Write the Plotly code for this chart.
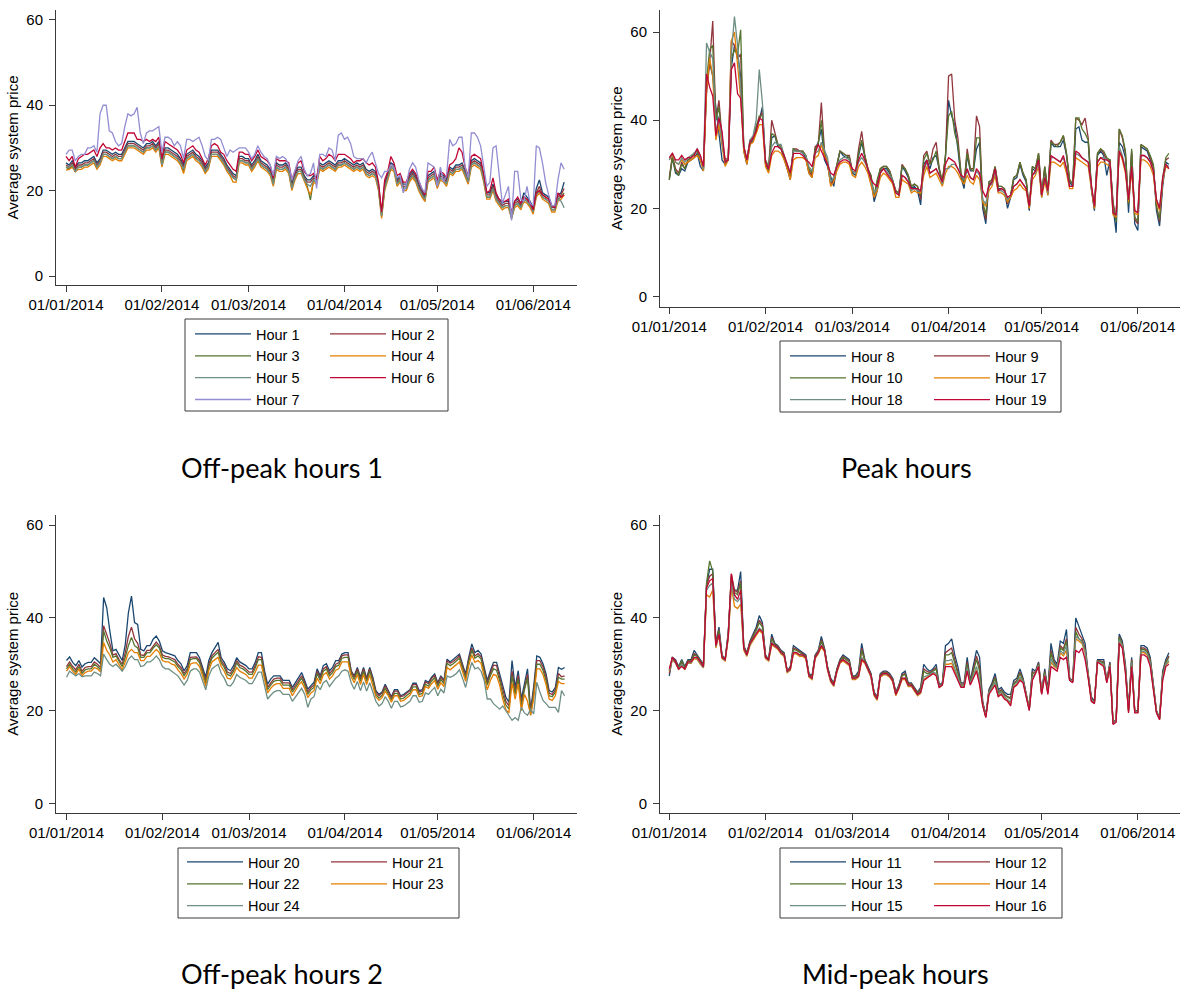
import plotly.graph_objects as go
import pandas as pd

# ---------------- data (daily average system price) ----------------
start_date = "2014-01-01"
n_days = 162
tick_dates = ["2014-01-01", "2014-02-01", "2014-03-01", "2014-04-01", "2014-05-01", "2014-06-01"]
tick_labels = ["01/01/2014", "01/02/2014", "01/03/2014", "01/04/2014", "01/05/2014", "01/06/2014"]
y_ticks = [0, 20, 40, 60]
panel_titles = ["Off-peak hours 1", "Peak hours", "Off-peak hours 2", "Mid-peak hours"]
y_title = "Average system price"

# Off-peak hours 1
hour_1 = [26.5,26,27,25.5,26.5,26.5,27,27,27.5,28, 26.5,27.5,29.5,29.5,29,28.5,29,28.5,28.5,30,
          31.5,31.5,31.5,31,30.5,30,31,31,31.5,30.5, 31.5,27,30,30,29.5,29,28.5,27.5,26,28.5,
          29,29.5,28.5,28,27,25.5,26.5,29.5,29.5,29.5, 28.5,27.5,26,25,24,23.5,28,28,27.5,27.5,
          26,27,28.5,27,26.5,26,25,22.5,26.5,26, 26,26.5,25.5,21.5,24,25.5,25.5,23.5,22.5,22.5,
          23.5,23,26.5,26,26.5,27,26.5,26,27,27, 27.5,27,26.5,26,26.5,26,26.5,25,24.5,25,
          24.5,21.5,14.5,21.5,24,26.5,26,22.5,23.5,21.5, 21.5,23.5,24.5,23.5,21.5,20,18.5,23.5,24,24.5,
          22,24,23.5,22.5,25.5,25,26,26,26.5,24.5, 23,27,27.5,27,26.5,23.5,19.5,19.5,21.5,19,
          18,17,17.5,17.5,14.5,17.5,18,17,19.5,18.5, 17.5,16,20.5,22.5,19.5,19,18.5,16.5,16.5,19,
          19.5,22]
hour_2 = [26,25.5,26.5,25,26,26,26.5,26.5,27,27.5, 26,27,29,29,28.5,28,28.5,28,28,29.5,
          31,31,31,30.5,30,29.5,30.5,30.5,31,30, 31,26.5,29.5,29.5,29,28.5,28,27,25.5,28,
          28.5,29,28,27.5,26.5,25,26,29,29,29, 28,27,25.5,24.5,23.5,23,27.5,27.5,27,27,
          25.5,26.5,28,26.5,26,25.5,24.5,22,26,25.5, 25.5,26,25,21,23.5,25,25,23,22,22,
          23,22.5,26,25.5,26,26.5,26,25.5,26.5,26.5, 27,26.5,26,25.5,26,25.5,26,24.5,24,24.5,
          24,21,14.5,21,23.5,26,25.5,22,23,21, 21,23,24,23,21,19.5,18,23,23.5,24,
          21.5,23.5,23,22,25,24.5,25.5,25.5,26,24, 22.5,26.5,27,26.5,26,23,19,19,21,18.5,
          17.5,16.5,17,17,14,17,17.5,16.5,18.5,18, 17,15.5,19.5,21,19,18.5,18,16,16,18.5,
          19,20.5]
hour_3 = [25.5,25,26,24.5,25.5,25.5,26,26,26.5,27, 25.5,26.5,28.5,28.5,28,27.5,28,27.5,27.5,29,
          30.5,30.5,30.5,30,29.5,29,30,30,30.5,29.5, 30.5,26,29,29,28.5,28,27.5,26.5,24.5,27.5,
          28,28.5,27.5,27,26,24.5,25.5,28.5,28.5,28.5, 27.5,26.5,25,24,23,22.5,27,27,26.5,26.5,
          25,26,27.5,26,25.5,25,24,21.5,25.5,25, 25,25.5,24.5,20.5,23,24.5,24.5,22.5,21,17.8,
          22.5,22,25.5,25,25.5,26,25.5,25,26,26, 26.5,26,25.5,25,25.5,25,25.5,24,23.5,24,
          23.5,20.5,14,20.5,23,25.5,25,21.5,22.5,20.5, 20.5,22.5,23.5,22.5,20.5,19,17.5,22.5,23,23.5,
          21,23,22.5,21.5,24.5,24,25,25,25.5,23.5, 22,26,26.5,26,25.5,22.5,18.5,18.5,20.5,18,
          17,16,16.5,16.5,13.5,16.5,17,16,18,17.5, 16.5,15,19,20,18.5,18,17.5,15.5,15.5,18,
          18.5,19.5]
hour_4 = [24.8,25,25.5,24.4,25,25,25.5,25.5,26,26.5, 25,26,28,28,27.5,27,27.5,27,27,28.5,
          30,30,30,29.5,29,28.5,29.5,29.5,30,29, 30,25.5,28.5,28.5,28,27.5,27,26,24,27,
          27.5,28,27,26.5,25.5,24,25,28,28,28, 27,26,24.5,23.5,22,22,26.5,26.5,26,26,
          24.5,25.5,27,25.5,25,24.5,23.5,21,25,24.5, 24.5,25,24,20,22.5,24,24,22,20.5,19,
          22,21.5,25,24.5,25,25.5,25,24.5,25.5,25.5, 26,25.5,25,24.5,25,24.5,25,23.5,23,23.5,
          23,20,13.5,20,22.5,25,24.5,21,22,20, 20,22,23,22,20,18.5,17.5,22,22.5,23,
          20.5,22.5,22,21,24,23.5,24.5,24.5,25,23, 21.5,25.5,26,25.5,25,22,18,18,20,17.5,
          16.5,15.5,16,16,13.5,16,16.5,15.5,17.5,17, 16,14.5,18.5,19.5,18,17.5,17,15,15,17.5,
          18,19]
hour_5 = [25.5,25.5,26,24.5,25.5,25.5,26,26,26.5,27, 25.5,26.5,28.5,28.5,28,27.5,28,27.5,27.5,29,
          30.5,30.5,30.5,30,29.5,29,30,30,30.5,29.5, 30.5,26,29,29,28.5,28,27.5,26.5,25,27.5,
          28,28.5,27.5,27,26,24.5,25.5,28.5,28.5,28.5, 27.5,26.5,25,24,23,22.5,27,27,26.5,26.5,
          25,26,27.5,26,25.5,25,24,21.5,25.5,25, 25,25.5,24.5,20.5,23,24.5,24.5,22.5,21.5,21,
          22.5,22,25.5,25,25.5,26,25.5,25,26,26, 26.5,26,25.5,25,25.5,25,25.5,24,23.5,24,
          23.5,20.5,14,20.5,23,25.5,25,21.5,22.5,20.5, 20.5,22.5,23.5,22.5,20.5,19,18,22.5,23,23.5,
          21,23,22.5,21.5,24.5,24,25,25,25.5,23.5, 22,26,26.5,26,25.5,22.5,18.5,18.5,20.5,18,
          17,16,16.5,16.5,13.5,16.5,17,16,18,17.5, 16.5,15,19,20,18.5,18,17.5,15.5,15.5,18,
          17.5,16]
hour_6 = [28,27,28,25.5,27.5,28,28.5,28.5,29,29.5, 28,30,31,30,30,29.5,30,29.5,29.5,31.5,
          33.5,33.5,33.5,32,32,31.5,32,31.5,32,31.5, 32.5,27.5,31.5,31,30.5,30,29.5,28.5,26.5,29.5,
          30,30.5,29.5,29,27.5,26,27.5,30.5,31,30.5, 29,28.5,27,26,25,24.5,29,29,28.5,28.5,
          27,28,29.5,28,27.5,27,26,23,27.5,27, 27,27,26.5,22.5,24.5,26.5,27,24.5,23.5,23.5,
          24,22.5,28,27,27.5,28.5,28,27,28.5,28.5, 28.5,28,27.5,26.5,27,27,27.5,26.5,26,26.5,
          25.5,22,15,22.5,24.5,28,26.5,23.5,24,22, 22,24,25,24,22,20.5,19,24.5,24.5,25.5,
          22.5,24.5,24,23,26,26.5,27.5,30,29,25.5, 23.5,28,28.5,28,27.5,24,19.5,20,23,19.5,
          18,17.5,17.5,18,15,17.5,18.5,17,18.5,18, 17,15.5,19.5,20,19,18.5,18,16.5,16,19.5,
          18.5,19]
hour_7 = [28.5,29.5,29.5,27,28,28.5,28.5,30,30,30.5, 29,38,40,40,34,33.5,31.5,30.5,31,35,
          38,37.5,38,39.5,33.5,31,33.5,34,34,34.5, 35,29,32.5,32.5,32,30.5,31.5,30.5,27.5,32,
          32,31.5,32,32.5,30.5,28,27,32,32,32.5, 32,30,28,29.5,29,29.5,30,30,30,29,
          27.5,28.5,30.5,29,28,27.5,26,23.5,28,27.5, 28,27.5,26,22.5,24.5,27,28,25,23.5,24,
          26.5,20.5,28.5,28.5,28,30,29.5,27,33,33.5, 32,32.5,31,28,27.5,27.5,27.5,26.5,28,29,
          26.5,24,23,24.5,24.5,26,25.5,23,23.5,19.5, 21.5,25,26.5,25.5,22.5,20.5,19.5,26.5,26,25.5,
          21,25.5,22,23.5,32,30.5,31,32.5,32.5,25.5, 23,33.5,33.5,32.5,30.5,26,21,22,30,30.5,
          23,17,19,21,13,24.5,24.5,18,17.5,21, 17,16.5,30.5,30,26.5,22,19,16.5,16.5,22.5,
          26.5,25]

# Peak hours
hour_8 = [26.5,31.5,28,27.5,29,28.5,30.5,31,31.5,32.5, 29.5,28.5,48,53,50,43,37,31,30,31,
          52,57,55,50,33,30,34.5,35.5,38,40, 43,30,28.5,36,36.5,34,33.5,31.5,29,26.5,
          33.5,33,33,32.5,31.5,28,27,33.5,35,38, 31,29.5,27,25,29.5,33,32,31.5,31.5,28,
          27.5,32,35,31.5,28.5,27,21.5,24,28.5,29, 29,28,26,23.5,23,29.5,28.5,27,24.5,25,
          24,20.8,30,31,29,31.5,32,28.5,25.5,31.5, 44.5,41,39,33.5,27,24.5,32,28.5,28.5,33.5,
          35,20,16.5,25.5,26,29,24.5,24.5,24,20, 22.5,26.5,27,30,27.5,26,19.5,29,28.5,32,
          22.5,29,23,35,34,34,34,35.5,32,26, 25,38,38.5,35.5,35,35,24.5,19.5,32,33,
          32,27.5,31,20.5,14.5,35,34,31.5,19,32.5, 16.5,15,34,33.5,33,31,29.5,19.5,16,25,
          30.5,30]
hour_9 = [27,32,29,28,30.5,29,31,31.5,32.5,33, 31,29,46,53,62.5,40,44.5,36,31,31.5,
          58,57,54,55,34,31,35.5,36,38.5,40.5, 42,30.5,29,40,37,34.5,34,32,29.5,27,
          33.5,33.5,33,33,32,28.5,27.5,34,34.5,44, 33,30,25.5,26.5,30,33,32.5,32,32,28.5,
          28,33.5,37.5,32,29,27.5,22.5,26,29,29.5, 29.5,28.5,26.5,24,23.5,30,29,27.5,25,25.5,
          25,22,32,33,30,33.5,35,29,26,32, 50,50.5,40,36,28,25.5,33.5,29,29,41,
          38.5,21,17.5,26,26.5,29.5,25,25,24.5,21, 23,27,27.5,30.5,28,26.5,20,29.5,29,32.5,
          23,29.5,23.5,35.5,34.5,34.5,35,36.5,32.5,26.5, 25.5,40.5,40,39,40.5,36,25,20,32.5,33.5,
          32.5,31,31,21.5,17.5,38,36,32.5,21,33, 17.5,16.5,34.5,34,33.5,31.5,29.5,20.5,17,26,
          31,31.5]
hour_10 = [26.5,31.5,28.5,27.5,30,29,31,31.5,32.5,33, 31,29,49,56,57,40,43,35,30.5,31,
           54,56,55,60.5,34,31,35,36,38.5,41, 41,31,29.5,37,36.5,34.5,34,32,29,27.5,
           33.5,33,33,33,32,29,28,33.5,34.5,40, 32.5,30,26,27,30,33,32.5,32,31.5,28.5,
           28,32.5,35.5,32,29,27.5,23,26.5,29,29.5, 29.5,28.5,26.5,24,23.5,29.5,29,27.5,25,25.5,
           25,23,31,32.5,30,31,33,29,26,32, 41,42,37,34.5,28,26,32.5,29,28.5,36,
           36,21.5,18.5,26,26.5,29.5,25,25,24.5,21.5, 23,27,27.5,30.5,28,26.5,20,29.5,29,32.5,
           23,29.5,24,35,34.5,34,35,36.5,32.5,26.5, 25.5,40.5,40.5,38,37,35.5,25,20,32.5,33.5,
           33,31.5,31,21,17,38,36.5,33,21,33.5, 18,17,34.5,34,33.5,32,30,20.5,17.5,27,
           31.5,32.5]
hour_17 = [31,32,30.5,30,31,30,30.5,31,31.5,32, 31,28.5,47,54,50,35.5,39,34,29.5,31,
           58,60,52,45,33,30,34.5,35,37,39, 39,29.5,28,32,33,33,32.5,31,29,26.5,
           31,31.5,31.5,31.5,31,28,27,31.5,32,34.5, 32,30.5,25,26,28.5,30,30.5,30.5,30,27.5,
           27,29.5,30.5,29.5,28,25.5,22.5,24,27,28, 27.5,26.5,25.5,22.5,22.5,26.5,26,25.5,23.5,24,
           23.5,23.5,27.5,29.5,27,27.5,28,26.5,25,28, 29.5,29.5,29,28,26.5,25.5,27.5,26,25.5,27.5,
           26.5,21.5,20.5,24,25,27.5,23.5,23.5,23,21.5, 22.5,24,24.5,25.5,24.5,24,20,26.5,27.5,29.5,
           22.5,26,23,30.5,30.5,30,29.5,30.5,28,24.5, 24.5,31.5,31,30.5,30,29.5,24.5,20,29.5,30.5,
           30.5,30,29.5,18.5,18,33,31,28,21.5,28.5, 19,18.5,31,31,30.5,29.5,27.5,21.5,19.5,26,
           29.5,29]
hour_18 = [31,32.5,30.5,30,31.5,30.5,31.5,32,32.5,33.5, 32,29,57.5,55.5,54,37,41,35,30.5,31,
           55,63.5,57,47,34,31,35.5,36.5,40,51.5, 44,30.5,29.5,34,35,34.5,34.5,32,30,28,
           33,33,33,32.5,32,29.5,28.5,32.5,33,35, 33,31.5,26,27,29.5,31,31.5,31.5,31,28.5,
           28,30.5,31.5,30.5,29,26.5,23.5,24.5,28,29, 28.5,27.5,26.5,23.5,23,27.5,27,26,24,24.5,
           24,24,28.5,30.5,28,28.5,29,27.5,25.5,29, 29,30,30,29,27.5,26.5,28.5,27,26.5,28.5,
           27.5,22,21,25,25.5,28.5,24,24,23.5,22, 23,25,25.5,26.5,25.5,24.5,20.5,27.5,28,30.5,
           23,27,23.5,31.5,31.5,31,30.5,31.5,29,25, 25,32.5,32,31.5,31,30.5,25,20.5,30.5,31.5,
           31.5,31,30.5,19,18.5,34,32,29,22,29.5, 19.5,19,32,32,31.5,30.5,28.5,22,20,26.5,
           30,29.5]
hour_19 = [31.5,32.5,31,31,32,31,31.5,31.5,32,33.5, 32,29.5,50.5,47.5,45.5,36.5,40.5,37.5,30.5,31,
           51.5,53,46,45,34,31,35,36,37.5,40.5, 40,30.5,29,32.5,34,34,33.5,32,30,28,
           32.5,32.5,32.5,32,31,30.5,29.5,32.5,34.5,33, 31.5,30,28,27.5,29.5,30.5,31,31,30.5,29,
           28.5,31,32.5,31,29,26.5,25.5,25,28,29, 28,27,26,23.5,23,27.5,27,26,24.5,24.5,
           24.5,24,29,31,28,28.5,29,27.5,26,30, 31.5,31,30.5,29,27.5,27,29,27,26.5,29,
           28,24,22.5,25,26,29,24,24.5,24,22.5, 23,25,25.5,26.5,25.5,24.5,20.5,27.5,28.5,31,
           23,27,24,32,31.5,31,30.5,32,29,25, 25,33,32.5,31.5,31,30.5,25.5,20.5,30.5,31.5,
           31,31,30.5,19,18.5,33,31.5,28.5,22,29.5, 19.5,19,32,32,31.5,30.5,28.5,22,20,27,
           30,29]

# Off-peak hours 2
hour_20 = [30.8,31.6,30.4,29.7,30.8,29.4,30.1,30.4,30.4,31.4, 30.8,30.1,44.4,42.2,37.2,32.9,33.2,31.9,30.8,34.3,
           41.1,44.7,39,38.6,33.2,32.9,34,34,35.4,36.1, 35,32.9,32.5,32.3,32,31.8,30.8,30.1,28.6,29.7,
           32.5,32.5,32.5,31.4,29.3,27.2,30.8,32.5,33.6,34.7, 31.4,30.4,29,28.6,29.7,31.4,30.5,30.1,29.7,29,
           29,30.4,32.5,32.5,28.6,25.7,26.8,27.5,27.5,27.5, 26.5,26.5,26.5,25,26,27.2,28.2,26.5,24.6,25.4,
           26.1,29,27.5,29.7,30.1,28.6,29.3,30.8,30.8,32.2, 32.5,32.5,28.6,27.5,29.3,27.2,29.3,27,29.3,27.2,
           24.3,23.5,24,25.7,24.5,23,24.5,24.5,23.2,23.5, 24,24.5,25.9,25.9,24.3,24.5,26.5,26.1,27.2,27.9,
           26,27.5,26.5,31.1,30.5,31,31.5,32.2,30,27.9, 31.5,34.4,32.5,33,32.2,29.3,26.5,28.6,30.4,30.4,
           27.9,25,22.9,21.8,30.8,25,28.6,22.5,26,29, 20,25.2,31.8,31.5,30.1,27.9,24.3,24,25,29.3,
           28.9,29.3]
hour_21 = [29.5,30.5,29.5,28.8,30,28.5,29.3,29.5,29.5,30.5, 30,29.3,38.3,36.5,34.5,32,32.3,31,30,32.5,
           36,38,35.5,34.5,32,31.9,33,33,34,34.8, 34,32,31.7,31.6,31.3,31,30,29.3,28,29,
           31.5,31.6,31.6,30.8,28.7,26.5,30,31.8,32.5,33.2, 30.8,29.8,28.3,28,29,30.8,29.8,29.5,29,28.3,
           28.3,29.7,31.6,31.5,28,25,26,26.8,27,27, 26,26,26,24.5,25.5,26.7,27.5,26,24,25,
           25.5,28.5,27,29,29.5,28,28.7,30,30.3,31.8, 32,32,28.5,27.2,29,26.8,29,26.8,29,26.8,
           24,23.2,23.8,25.3,24.2,22.8,24.2,24.2,23,23.2, 23.8,24.3,25.6,25.6,24,24.2,26.2,25.8,26.9,27.6,
           25.7,27.2,26.3,30.7,30.2,30.6,31.2,31.8,29.6,27.5, 31,33.5,31.8,32.3,31.6,28.8,26,28,29.8,29.7,
           27.2,24.2,22,21,28.5,24.2,27.6,21.8,25.2,27.8, 19.5,24.3,30.8,30.8,29.4,27.2,23.8,23.5,24.5,28,
           27.3,27.5]
hour_22 = [29,30,29,28.3,29.5,28,28.8,29,29,30, 29.5,28.8,37.2,35,33.5,31.5,31.8,30.5,29.5,31.5,
           34,35.8,34,33.5,31.5,31.5,32.5,32.5,33.5,34.2, 33.5,31.5,31.2,31.2,30.8,30.5,29.5,28.8,27.5,28.5,
           31,31.2,31.2,30.3,28.2,26,29.5,31.3,32,32.6, 30.3,29.3,27.8,27.5,28.5,30.3,29.3,29,28.5,27.8,
           27.8,29.2,31,31,27.5,24.5,25.5,26.3,26.5,26.5, 25.5,25.5,25.5,24,25,26.2,27,25.5,23.5,24.5,
           25,28,26.5,28.5,29,27.5,28.2,29.5,29.8,31.3, 31.5,31.5,28,26.7,28.5,26.3,28.5,26.3,28.5,26.3,
           23.5,22.7,23.3,24.8,23.7,22.3,23.7,23.7,22.5,22.7, 23.3,23.8,25.1,25.1,23.5,23.7,25.7,25.3,26.4,27.1,
           25.2,26.7,25.8,30.2,29.7,30.1,30.7,31.3,29.1,27, 30.5,33,31.3,31.8,31.1,28.3,25.5,27.5,29,28.7,
           26.5,23.5,21.2,20.3,27.5,23.5,26.8,21,24.5,27, 19,23.5,30,30,28.7,26.5,23.2,23,24,27.2,
           26.8,26.8]
hour_23 = [28.5,29.5,28.5,27.8,29,27.5,28.2,28.5,28.5,29.3, 29,28.3,34.7,33,32,30.5,31,29.8,28.8,30.5,
           32.5,33.2,32.5,32.5,30.8,30.8,31.7,31.7,32.5,33.2, 32.5,30.8,30.5,30.5,30,29.8,28.8,28,26.8,27.8,
           30,30.3,30.3,29.5,27.5,25.3,28.7,30.5,31,31.5, 29.5,28.5,27,26.8,27.8,29.3,28.5,28.2,27.8,27,
           27,28.3,29.8,29.8,26.8,23.8,24.8,25.5,25.8,25.8, 24.8,24.8,24.8,23.2,24.3,25.5,26.2,24.8,22.8,23.8,
           24.3,27,25.8,27.7,28.2,26.8,27.5,28.7,29,30.5, 30.5,30.5,27.3,26,27.8,25.6,27.8,25.6,27.7,25.6,
           23,22.2,22.8,24.2,23.2,21.8,23.2,23.2,22,22.2, 22.8,23.3,24.5,24.5,23,23.2,25.2,24.8,25.8,26.5,
           24.6,26,25.2,29.3,28.8,29.3,29.8,30.5,28.4,26.3, 29.7,32,30.4,30.8,30.2,27.5,24.5,26.5,27.8,27.5,
           25.5,22.5,20.2,19.5,26,22.5,25.8,20,23.5,22, 19,22.5,29,29,27.8,25.6,22.5,22.2,23.2,26.3,
           25.8,25.8]
hour_24 = [27.2,28.5,28,27.5,28,27.3,27.5,27.5,27.5,28.3, 28,27.5,32.2,31,30,29.5,30,29.3,28.5,29.5,
           31,31.8,31,31,29.5,29.7,30.5,30.5,31,31.8, 31,29.5,29,29,28.5,28.2,27.5,26.5,25.5,26.5,
           28.5,29,29,28.3,26.5,24.5,27.5,29,29.5,30, 28,27,25.5,25.3,26.2,27.8,27.2,26.8,26.5,25.8,
           25.8,27,28.3,28.3,25.5,22.5,23.3,24,24.3,24.3, 23.5,23.5,23.5,22,23,24,24.8,23.5,20.7,22.5,
           23,25.5,24.5,26,26.5,25.2,26,27,27.5,28.5, 28.8,28.5,26,24.6,26.3,24.3,26.2,24.2,26,24,
           22,21,21.5,23,22,20.5,22,22,20.8,21, 21.5,22,23.2,23.2,21.8,22,23.8,23.5,24.3,25,
           23.2,24.6,23.8,27.5,27.2,27.5,28,28.8,27,25, 28,30.4,29,29.3,28.5,26.5,22.5,22.5,21.5,21,
           20.3,21,20,19,17.9,18.5,17.9,20.7,19.5,19, 20.3,19.3,26.1,24,22.2,21.5,20.7,20.7,20.7,19.6,
           24.3,23.2]

# Mid-peak hours
hour_11 = [27.5,31.5,31,29.5,31,29.5,31,31,33,32, 31,30,47,50.5,50.5,34.5,38,32,31,37,
           48,46,46,50,34,32.5,35,36.5,38,40.5, 39,32,31,36.5,34.5,34,33,32.5,28.5,29.5,
           34,33.5,33,32.5,32,28,27.5,32,33,36, 33.5,29.5,27,26,29,31,32,31.5,31,27.5,
           27.5,28.5,34.5,31,29.5,28,24,23,28,28.5, 28.5,28,27,24,25.5,28,28.5,26,26,25,
           24,25,30,29,28.5,29,30,25.5,26,34, 34.5,35.5,32,29.5,26,26,31.5,26.5,29.5,33,
           31.5,22,19,24.5,26,28,24.5,25,24,23.5, 23.5,26.5,27,29,27,24,20.5,29,28.5,30.5,
           24,29,24.5,34.5,31,30,35,34.5,37.5,27, 26.5,40,38,36.5,34.5,28,23,22,31,31,
           31,26.5,30.5,17.5,18,36.5,35,30,20.5,31.5, 20,20,34,34,33.5,31.5,26,20,18.5,28.5,
           31,32.5]
hour_12 = [28,31.5,30.8,29.3,30.5,29.3,30.8,30.8,32.3,31.8, 30.8,29.8,47,49,49.5,34.3,37.5,31.8,31,36.5,
           49.5,46,45.5,48,33.8,32.3,34.8,36.2,37.5,39.5, 38.5,31.8,31,35.8,34.3,33.8,32.8,32.3,28.5,29.3,
           33.5,33.2,32.7,32.3,31.8,27.8,27.3,31.8,32.8,35.3, 33.3,29.3,26.8,25.8,28.8,30.8,31.7,31.2,30.7,27.3,
           27.3,28.2,33.5,30.8,29.3,27.8,23.8,22.8,27.8,28.3, 28.3,27.8,26.8,23.8,25.3,27.7,28,25.8,25.8,24.8,
           23.8,24.7,29,28.5,28.2,28.7,29.3,25.3,25.8,32.5, 33,33.5,31,28.5,25.7,25.7,30.5,26.2,28.8,31.8,
           29.5,21.7,18.8,24.2,25.5,27.3,24,24.5,23.5,23, 22.8,26,26.5,28.3,26.7,23.7,20.3,28.3,28.3,30.2,
           23.8,28.5,24.2,33,30.5,29.5,34,33.3,35.5,26.8, 26.3,38,36.5,35.5,33.5,27.7,22.7,21.8,30.8,30.7,
           30.5,26.3,30.2,17.3,17.8,36,34.5,29.3,20.2,31, 19.8,19.8,33.5,33.5,33,31,25.7,19.8,18.3,28,
           30.5,31.8]
hour_13 = [28.5,31.5,30.5,29.2,30.8,29.2,30.7,30.7,32,31.7, 30.7,29.7,47.5,52.3,50,34.2,37.3,31.7,31,36.5,
           49,45.5,45,47.5,33.7,32.2,34.7,36,37.3,39, 38,31.7,31,35.5,34.2,33.7,32.7,32.2,28.5,29.2,
           33.2,33,32.5,32.2,31.7,27.7,27.2,31.7,32.7,35, 33.2,29.2,26.7,25.7,28.7,30.7,31.5,31,30.5,27.2,
           27.2,28,33,30.7,29.2,27.7,23.7,22.7,27.7,28.2, 28.2,27.7,26.7,23.7,25.2,27.5,27.8,25.7,25.7,24.7,
           23.7,24.5,28.5,28,28,28.5,29,25.2,25.7,32, 32,32.5,30.5,28,25.5,25.5,30,26,28.5,31,
           28.5,21.5,18.7,24,25.3,27,23.8,24.3,23.3,22.8, 22.5,25.8,26.3,28,26.5,23.5,20.3,28,28.2,30,
           23.7,28.3,24,32.5,30.2,29.3,33.5,33,35,26.7, 26.2,37,35.5,35,33,27.5,22.5,21.7,30.7,30.5,
           30.3,26.2,30,17.2,17.7,35.8,34.3,29,20,30.7, 19.7,19.7,33.2,33.2,32.7,30.7,25.5,19.7,18.2,27.7,
           30.3,31.5]
hour_14 = [28.5,31,30.2,28.8,29.8,28.8,30.2,30.2,31.2,31, 30,29.2,45,44.5,46,33.5,36.2,31.2,30.7,35.5,
           47,42.5,42,43,33,31.7,34,35.2,36.2,37.2, 36.7,31.2,30.7,34.2,33.7,33.2,32.2,31.7,28.2,28.7,
           32.3,32.2,31.7,31.7,31.2,27.2,26.7,31.2,32.2,33.7, 32.7,28.7,26.2,25.2,28.2,30.2,30.7,30.2,29.7,26.7,
           26.7,27.2,30.7,30.2,28.7,27.2,23.2,22.2,27.2,27.7, 27.7,27.2,26.2,23.2,24.7,26.7,26.7,25.2,25.2,24.2,
           23.2,23.7,26.7,27.2,27.5,28,27.7,25,25.5,30, 30,30.2,28.5,26.8,25.2,25.2,28.8,25.7,27.3,28.8,
           26,21.2,18.7,23.7,24.7,25.8,23.2,23.7,22.7,22.2, 21.5,25.2,25.7,26.8,26.2,23.2,20.2,26.8,28,29.7,
           23.7,27.7,23.7,30.5,29.5,29,32.5,31.8,33,26.7, 26.2,35.5,35,34.5,32.5,27.2,22.2,21.7,30.5,30.2,
           29.8,26.2,29.7,17.2,17.7,35,33.8,28.5,19.8,30, 19.7,19.7,32.5,32.5,32,30,25.3,19.7,18.2,27,
           29.8,30.5]
hour_15 = [28.7,31.2,30.3,28.9,30,28.9,30.3,30.3,31.5,31.2, 30.2,29.3,46,47,47.5,33.8,36.5,31.4,30.8,36,
           47.5,44,43.5,44.5,33.3,31.9,34.3,35.4,36.5,37.8, 37.2,31.4,30.8,34.8,33.9,33.4,32.4,31.9,28.3,28.9,
           32.7,32.5,32,31.9,31.4,27.4,26.9,31.4,32.4,34.2, 32.9,28.9,26.4,25.4,28.4,30.4,31,30.5,29.9,26.9,
           26.9,27.4,31.5,30.4,28.9,27.4,23.4,22.4,27.4,27.9, 27.9,27.4,26.4,23.4,24.9,26.9,27,25.4,25.4,24.4,
           23.4,23.9,27.3,27.5,27.8,28.3,28,25.1,25.6,30.8, 30.8,31,29,27.2,25.3,25.3,29.2,25.8,27.8,29.5,
           26.8,21.3,18.7,23.8,25,26.2,23.5,24,23,22.5, 21.8,25.5,26,27.2,26.3,23.3,20.2,27.2,28.1,29.8,
           23.7,27.9,23.8,31.3,29.8,29.2,33,32.3,34,26.7, 26.2,36,35.5,34.8,32.8,27.3,22.3,21.7,30.6,30.3,
           30,26.2,29.8,17.2,17.7,35.3,34,28.7,19.9,30.3, 19.7,19.7,32.8,32.8,32.3,30.3,25.4,19.7,18.2,27.3,
           30,30.8]
hour_16 = [29,31.5,30.5,29,29.5,29,30.5,30.5,31.5,31.5, 30.5,29.5,46.5,48,48.5,34,36.5,31.5,31,36,
           49.5,45,44,46,33.5,32,34.5,35.5,36.5,37.5, 37,31.5,31,34.5,34,33.5,32.5,32,28.5,29,
           32.5,32.5,32,32,31.5,27.5,27,31.5,32.5,34, 33,29,26.5,25.5,28.5,30.5,31,30.5,30,27,
           27,27.5,31,30.5,29,27.5,23.5,22.5,27.5,28, 28,27.5,26.5,23.5,25,27,27,25.5,25.5,24.5,
           23.5,24,26.5,27,27.5,28,27.5,25,25.5,29.5, 29.5,29.5,28,26.5,25,25,28.5,25.5,27,28.5,
           25.5,21,18.5,23.5,24.5,25.5,23,23.5,22.5,22, 21,25,25.5,26.5,26,23,20,26.5,28,29.5,
           23.5,27.5,23.5,29.5,29,28.5,31.5,31,31.5,26.5, 26,33,32.5,33.5,31,27,22,21.5,30.5,30,
           29.5,26,29.5,17,17.5,34.5,33.5,28,19.5,29.5, 19.5,19.5,32,32,31.5,29.5,25,19.5,18,26.5,
           29.5,30]

# ---------------- styling ----------------
W, H = 1182, 991
NAVY, MAROON, GREEN, ORANGE = "#1a476f", "#90353b", "#55752f", "#e37e00"
TEAL, CRANBERRY, LAVENDER = "#6e8e84", "#c10534", "#938dd2"
AX = "#3a3a3a"
FONT = "Liberation Sans, Arial, sans-serif"
TICK_FONT = dict(family=FONT, size=15, color="black")

panels = [
    dict(series=[("Hour 1", hour_1, NAVY), ("Hour 2", hour_2, MAROON), ("Hour 3", hour_3, GREEN),
                 ("Hour 4", hour_4, ORANGE), ("Hour 5", hour_5, TEAL), ("Hour 6", hour_6, CRANBERRY),
                 ("Hour 7", hour_7, LAVENDER)],
         box=(56, 577, 10, 285), jan1=66.0, ppd=3.094, yr=(-2.1, 62.3),
         leg_box=(185, 448, 319, 411), leg_cols=(190, 325), leg_top=318, caption=(282, 467)),
    dict(series=[("Hour 8", hour_8, NAVY), ("Hour 9", hour_9, MAROON), ("Hour 10", hour_10, GREEN),
                 ("Hour 17", hour_17, ORANGE), ("Hour 18", hour_18, TEAL), ("Hour 19", hour_19, CRANBERRY)],
         box=(660, 1180, 10, 306.7), jan1=669.3, ppd=3.103, yr=(-2.3, 65.0),
         leg_box=(780, 1061, 341, 412), leg_cols=(785, 929), leg_top=340, caption=(906, 467)),
    dict(series=[("Hour 20", hour_20, NAVY), ("Hour 21", hour_21, MAROON), ("Hour 22", hour_22, GREEN),
                 ("Hour 23", hour_23, ORANGE), ("Hour 24", hour_24, TEAL)],
         box=(56, 577, 515, 812.7), jan1=66.5, ppd=3.094, yr=(-2.03, 62.2),
         leg_box=(178, 459, 848, 918), leg_cols=(182, 326), leg_top=846, caption=(282, 973)),
    dict(series=[("Hour 11", hour_11, NAVY), ("Hour 12", hour_12, MAROON), ("Hour 13", hour_13, GREEN),
                 ("Hour 14", hour_14, ORANGE), ("Hour 15", hour_15, TEAL), ("Hour 16", hour_16, CRANBERRY)],
         box=(660, 1180, 515, 812.7), jan1=669.3, ppd=3.103, yr=(-2.03, 62.2),
         leg_box=(780, 1062, 848, 918), leg_cols=(785, 929), leg_top=846, caption=(895, 973)),
]

dates = pd.date_range(start_date, periods=n_days, freq="D")
base = pd.Timestamp(start_date)

fig = go.Figure()
layout = dict(width=W, height=H, margin=dict(l=0, r=0, t=0, b=0, autoexpand=False),
              paper_bgcolor="white", plot_bgcolor="white", showlegend=True)
shapes, annotations = [], []

def px_x(v):
    return v / W

def px_y(v):
    return 1 - v / H

legend_idx = 0
for i, p in enumerate(panels, start=1):
    xa = "x" if i == 1 else f"x{i}"
    ya = "y" if i == 1 else f"y{i}"
    leg_names = []
    for c in range(2):
        legend_idx += 1
        name = "legend" if legend_idx == 1 else f"legend{legend_idx}"
        leg_names.append(name)
        layout[name] = dict(
            x=px_x(p["leg_cols"][c]), y=px_y(p["leg_top"]), xanchor="left", yanchor="top",
            orientation="v", bgcolor="rgba(0,0,0,0)", borderwidth=0, itemwidth=56,
            font=dict(family=FONT, size=14.5, color="black"),
            tracegroupgap=0, itemclick=False, itemdoubleclick=False, traceorder="normal")
    for k, (label, vals, col) in enumerate(p["series"]):
        fig.add_trace(go.Scatter(
            x=dates[:len(vals)], y=vals, mode="lines", name=label,
            line=dict(color=col, width=1.3), xaxis=xa, yaxis=ya,
            legend=leg_names[k % 2], showlegend=True))

    x0, x1, ytop, ybot = p["box"]
    lo = (x0 - p["jan1"]) / p["ppd"]
    hi = (x1 - p["jan1"]) / p["ppd"]
    xr = [(base + pd.Timedelta(days=lo)).isoformat(), (base + pd.Timedelta(days=hi)).isoformat()]
    xkey = "xaxis" if i == 1 else f"xaxis{i}"
    ykey = "yaxis" if i == 1 else f"yaxis{i}"
    layout[xkey] = dict(domain=[px_x(x0), px_x(x1)], anchor=ya, type="date", range=xr,
                        tickmode="array", tickvals=tick_dates, ticktext=tick_labels,
                        showline=True, linecolor=AX, linewidth=1, ticks="outside", ticklen=6,
                        tickwidth=1, tickcolor=AX, showgrid=False, zeroline=False,
                        tickfont=TICK_FONT, fixedrange=True, automargin=False)
    layout[ykey] = dict(domain=[px_y(ybot), px_y(ytop)], anchor=xa, range=list(p["yr"]),
                        tickmode="array", tickvals=y_ticks, ticktext=[str(v) for v in y_ticks],
                        showline=True, linecolor=AX, linewidth=1, ticks="outside", ticklen=6,
                        tickwidth=1, tickcolor=AX, showgrid=False, zeroline=False,
                        tickfont=TICK_FONT, ticklabelstandoff=3, fixedrange=True, automargin=False,
                        title=dict(text=y_title, font=dict(family=FONT, size=15, color="black"),
                                   standoff=4))
    bx0, bx1, by0, by1 = p["leg_box"]
    shapes.append(dict(type="rect", xref="paper", yref="paper",
                       x0=px_x(bx0), x1=px_x(bx1), y0=px_y(by1), y1=px_y(by0),
                       line=dict(color=AX, width=1), fillcolor="rgba(0,0,0,0)"))
    cx, cy = p["caption"]
    annotations.append(dict(text=panel_titles[i - 1], xref="paper", yref="paper",
                            x=px_x(cx), y=px_y(cy), xanchor="center", yanchor="middle",
                            showarrow=False, font=dict(family="Lato, Carlito, sans-serif", size=27,
                                                       color="black")))

layout["shapes"] = shapes
layout["annotations"] = annotations
fig.update_layout(**layout)
# remove the browser's default 8px page margin so the 1182x991 figure fills the window exactly
fig.write_html("out.html", config={"displayModeBar": False},
               post_script="document.body.style.margin='0';document.body.style.overflow='hidden';")
